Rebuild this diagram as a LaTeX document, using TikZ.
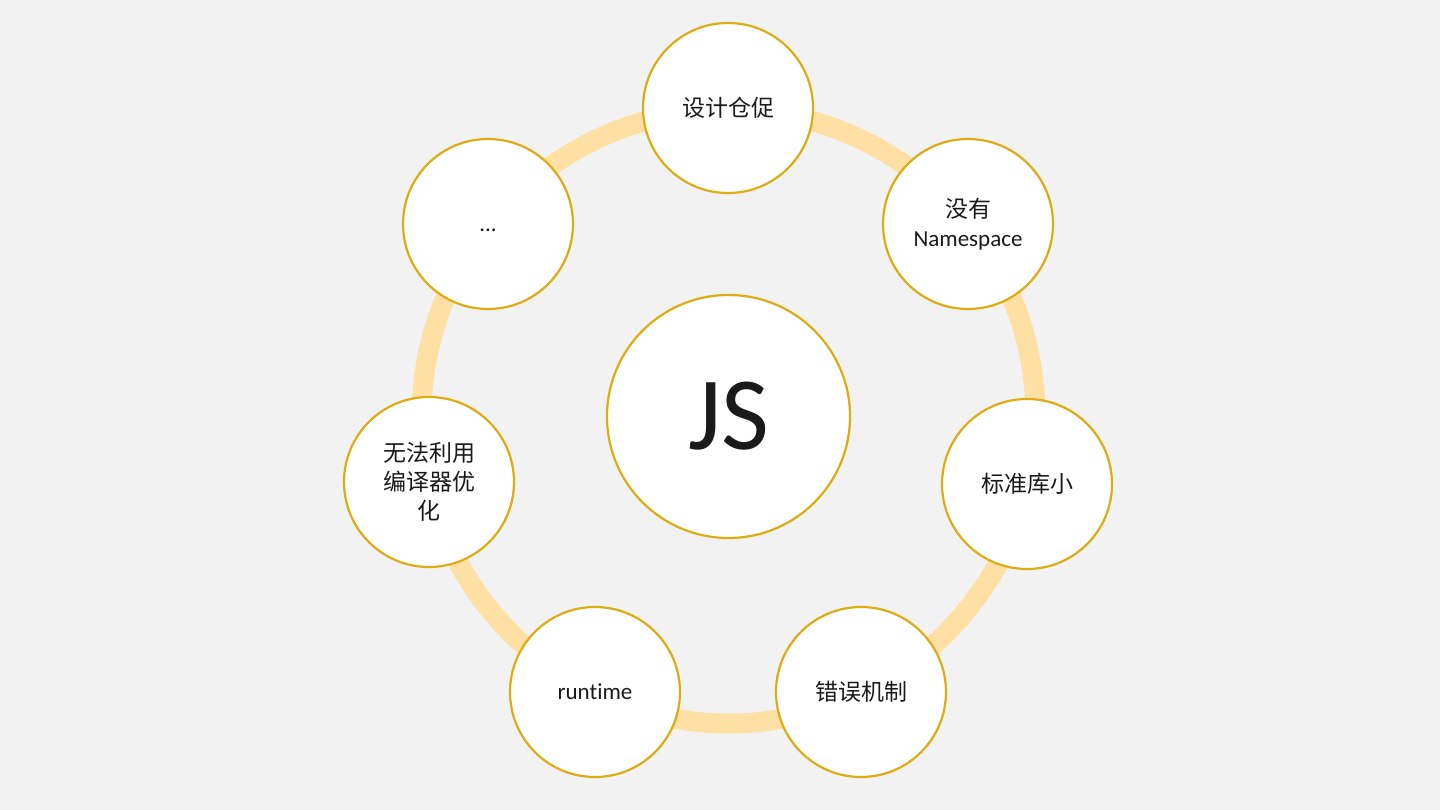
\documentclass[tikz,border=0pt]{standalone}
\usepackage{fontspec}
\setmainfont{Carlito}[Ligatures=CommonOff]
\newfontfamily\cjk{Noto Sans CJK SC}
\usepackage{tikz}
\definecolor{paper}{RGB}{242,242,242}
\definecolor{ringtan}{RGB}{255,224,164}
\definecolor{rimgold}{RGB}{222,172,18}
\definecolor{inkgrey}{RGB}{26,26,26}

\begin{document}
\begin{tikzpicture}[x=1pt,y=-1pt, every node/.style={text=inkgrey},
  bubble/.style={circle,draw=rimgold,fill=white,line width=2.2pt,minimum size=170pt,
                 inner sep=0pt,align=center,font=\fontsize{23}{29}\selectfont\cjk},
  hubble/.style={circle,draw=rimgold,fill=white,line width=2.2pt,minimum size=243pt,
                 inner sep=0pt,font=\fontsize{104}{104}\selectfont},
  ringway/.style={draw=ringtan,line width=20pt}]

\fill[paper] (0,0) rectangle (1440,810);
\useasboundingbox (0,0) rectangle (1440,810);

\node[hubble] (hub) at (728.5,416.5) {JS};

\draw[ringway] (hub.center) circle[radius=307];

\node[bubble] (rush) at (728,108)  {设计仓促};
\node[bubble] (ns)   at (968,224)  {没有\\\rmfamily Namespace};
\node[bubble] (lib)  at (1027,484) {标准库小};
\node[bubble] (err)  at (861,692)  {错误机制};
\node[bubble] (rt)   at (595,692)  {\rmfamily runtime};
\node[bubble] (opt)  at (429,482)  {无法利用\\编译器优\\化};
\node[bubble] (more) at (488,224)  {\rmfamily\raisebox{-8pt}[0pt][0pt]{...}};
\end{tikzpicture}
\end{document}
